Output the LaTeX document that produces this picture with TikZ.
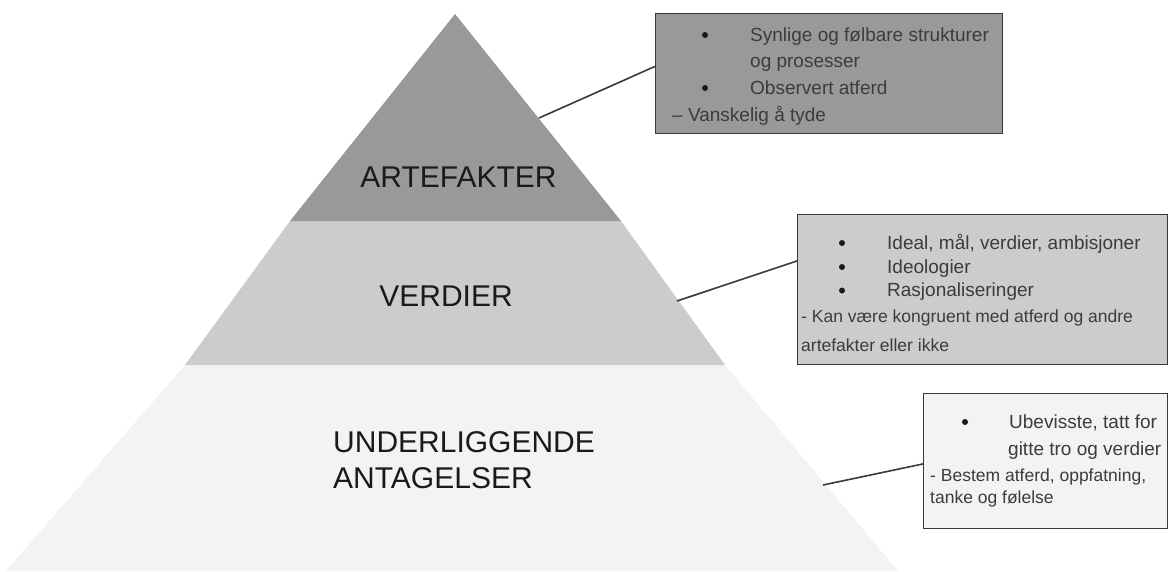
\documentclass[tikz,border=0pt]{standalone}
\usepackage{fontspec}
\setmainfont{Liberation Sans}
\usetikzlibrary{calc}
\definecolor{lay1}{HTML}{999999}
\definecolor{lay2}{HTML}{CCCCCC}
\definecolor{lay3}{HTML}{F3F3F3}
\definecolor{ink}{HTML}{1A1A1A}
\definecolor{edge}{HTML}{3A3A3A}
\tikzset{
  layerlabel/.style={font=\fontsize{30}{34}\selectfont, text=ink, inner sep=0pt},
  infobox/.style={draw=edge, line width=1.4pt, inner sep=0pt, anchor=north west},
  boxtext/.style={font=\fontsize{19}{22}\selectfont, text=ink!85, inner sep=0pt, anchor=base west},
  notetext/.style={font=\fontsize{17.5}{20}\selectfont, text=ink!85, inner sep=0pt, anchor=base west},
  bulletdot/.style={fill=ink, draw=none, circle, inner sep=0pt, minimum size=6pt},
  connector/.style={draw=edge, line width=1.6pt}
}
\begin{document}
\begin{tikzpicture}[x=1pt,y=-1pt]
\useasboundingbox (0,0) rectangle (1170,571);
\fill[white] (0,0) rectangle (1170,571);
% pyramid layers
\fill[lay3] (185,365) -- (725,365) -- (898,571) -- (6,571) -- cycle;
\fill[lay2] (290,221) -- (621,221) -- (725,365) -- (185,365) -- cycle;
\fill[lay1] (455,14) -- (621,221) -- (290,221) -- cycle;
% layer labels
\node[layerlabel, anchor=base] (art) at (458.5,187) {ARTEFAKTER};
\node[layerlabel, anchor=base] (ver) at (446,306) {VERDIER};
\node[layerlabel, anchor=base west] (und) at (333,452) {UNDERLIGGENDE};
\node[layerlabel, anchor=base west] (ant) at (333,488) {ANTAGELSER};
% boxes
\node[infobox, fill=lay1, minimum width=347pt, minimum height=120pt] (box1) at (655,13) {};
\node[infobox, fill=lay2, minimum width=370pt, minimum height=150pt] (box2) at (797,214) {};
\node[infobox, fill=lay3, minimum width=244pt, minimum height=135pt] (box3) at (923,393) {};
% box 1 text
\node[bulletdot] (b11) at (705,35) {};
\node[boxtext] (t11) at (750,41.5) {Synlige og følbare strukturer};
\node[boxtext] (t12) at (750,67) {og prosesser};
\node[bulletdot] (b12) at (705,88) {};
\node[boxtext] (t13) at (750,94) {Observert atferd};
\node[boxtext] (t14) at (672,121.5) {– Vanskelig å tyde};
% box 2 text
\node[bulletdot] (b21) at (842,243) {};
\node[boxtext] (t21) at (887,249.3) {Ideal, mål, verdier, ambisjoner};
\node[bulletdot] (b22) at (842,267) {};
\node[boxtext] (t22) at (887,273.3) {Ideologier};
\node[bulletdot] (b23) at (842,290.5) {};
\node[boxtext] (t23) at (887,296.7) {Rasjonaliseringer};
\node[notetext] (t24) at (801,322.7) {- Kan være kongruent med atferd og andre};
\node[notetext] (t25) at (801,351.7) {artefakter eller ikke};
% box 3 text
\node[bulletdot] (b31) at (965,422) {};
\node[boxtext] (t31) at (1009,428.3) {Ubevisste, tatt for};
\node[boxtext] (t32) at (1008,455) {gitte tro og verdier};
\node[notetext] (t33) at (930,481.7) {- Bestem atferd, oppfatning,};
\node[notetext] (t34) at (930,503.3) {tanke og følelse};
% connectors
\coordinate (p1) at (539,118);
\coordinate (p2) at (677,301);
\coordinate (p3) at (823,485);
\draw[connector] (p1) -- ($(box1.north west)!0.44!(box1.south west)$);
\draw[connector] (p2) -- ($(box2.north west)!0.31!(box2.south west)$);
\draw[connector] (p3) -- ($(box3.north west)!0.52!(box3.south west)$);
\end{tikzpicture}
\end{document}
